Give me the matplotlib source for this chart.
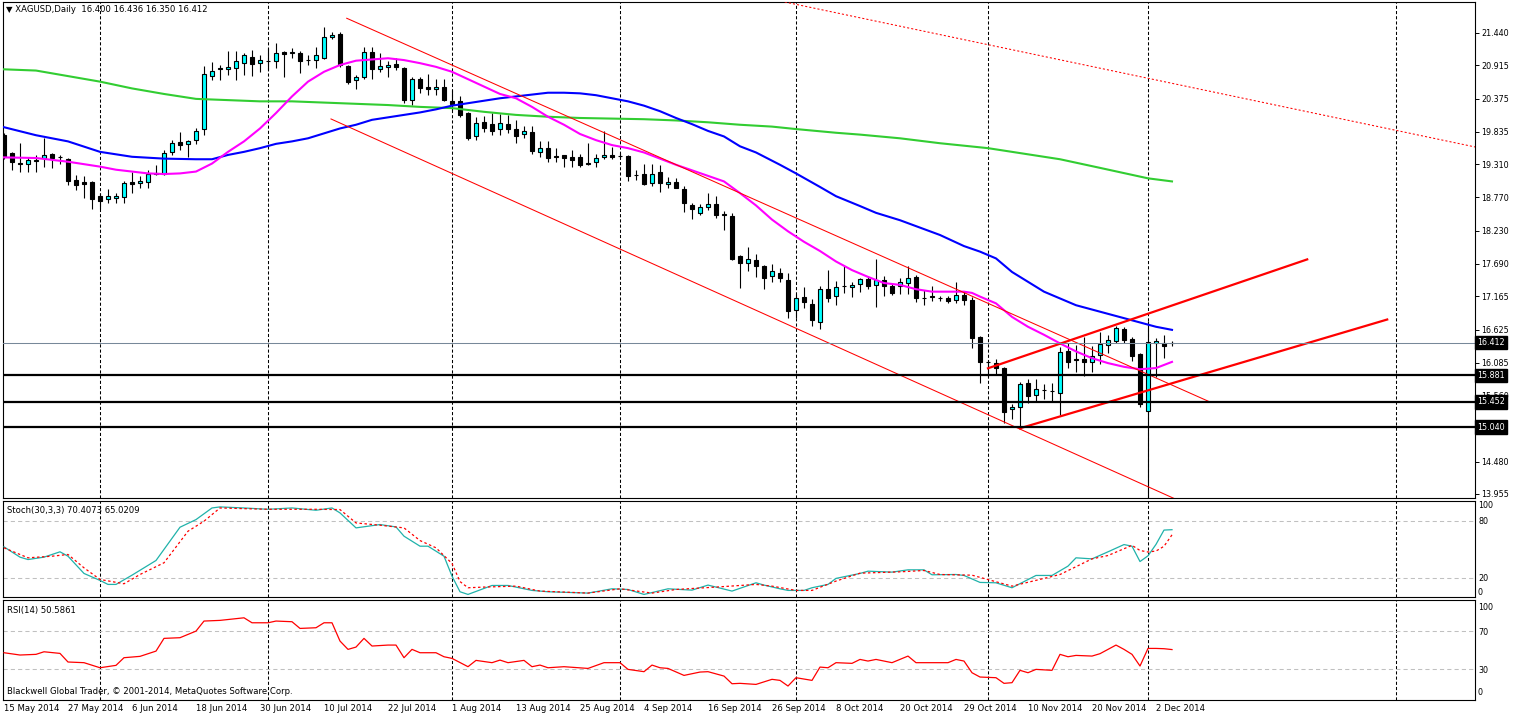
import numpy as np
import matplotlib.pyplot as plt

W, H = 1514, 718

# daily candles, 15 May 2014 .. 4 Dec 2014 (bar index = position on chart)
opens = [19.78, 19.49, 19.33, 19.31, 19.36, 19.41, 19.48, 19.43, 19.39, 19.05,
         19.02, 19.02, 18.79, 18.74, 18.76, 18.77, 19.02, 19.00, 19.02, 19.16,
         19.15, 19.50, 19.67, 19.64, 19.71, 19.88, 20.74, 20.86, 20.85, 20.87,
         20.96, 21.05, 20.96, 20.99, 20.99, 21.13, 21.12, 21.12, 21.00, 21.00,
         21.04, 21.38, 21.43, 20.90, 20.68, 20.72, 21.13, 20.86, 20.88, 20.94,
         20.87, 20.35, 20.69, 20.56, 20.53, 20.56, 20.34, 20.34, 20.14, 19.76,
         20.00, 19.96, 19.88, 19.96, 19.88, 19.80, 19.83, 19.51, 19.58, 19.45,
         19.46, 19.43, 19.43, 19.32, 19.35, 19.42, 19.46, 19.44, 19.44, 19.14,
         19.15, 19.01, 19.19, 18.99, 19.02, 18.91, 18.65, 18.52, 18.61, 18.66,
         18.49, 18.47, 17.82, 17.70, 17.75, 17.65, 17.49, 17.54, 17.43, 16.95,
         17.15, 17.04, 16.74, 17.29, 17.17, 17.33, 17.32, 17.36, 17.44, 17.35,
         17.43, 17.33, 17.33, 17.38, 17.48, 17.14, 17.16, 17.14, 17.14, 17.10,
         17.19, 17.11, 16.50, 16.09, 16.08, 16.00, 15.33, 15.36, 15.75, 15.57,
         15.65, 15.62, 15.60, 16.27, 16.14, 16.15, 16.09, 16.21, 16.38, 16.44,
         16.63, 16.47, 16.23, 15.31, 16.40, 16.41, 16.400]
highs = [19.81, 19.51, 19.65, 19.43, 19.46, 19.73, 19.49, 19.46, 19.41, 19.14,
         19.11, 19.03, 18.84, 18.90, 18.85, 19.03, 19.19, 19.11, 19.22, 19.30,
         19.54, 19.70, 19.84, 19.71, 19.89, 20.90, 20.97, 20.92, 21.14, 21.14,
         21.11, 21.16, 21.08, 21.19, 21.27, 21.14, 21.19, 21.14, 21.08, 21.22,
         21.54, 21.46, 21.45, 20.92, 20.76, 21.22, 21.22, 21.11, 20.98, 21.03,
         20.89, 20.73, 20.73, 20.77, 20.69, 20.70, 20.52, 20.41, 20.16, 20.08,
         20.09, 20.14, 20.13, 20.11, 20.03, 19.93, 19.93, 19.68, 19.68, 19.57,
         19.46, 19.54, 19.48, 19.65, 19.48, 19.85, 19.59, 19.49, 19.46, 19.22,
         19.32, 19.31, 19.30, 19.10, 19.08, 18.95, 18.68, 18.66, 18.85, 18.80,
         18.55, 18.51, 17.83, 17.96, 17.85, 17.67, 17.69, 17.62, 17.54, 17.20,
         17.31, 17.12, 17.33, 17.59, 17.42, 17.66, 17.40, 17.47, 17.48, 17.77,
         17.50, 17.38, 17.46, 17.65, 17.51, 17.27, 17.33, 17.17, 17.17, 17.39,
         17.24, 17.16, 16.52, 16.13, 16.14, 16.02, 15.42, 15.78, 15.83, 15.83,
         15.74, 15.76, 16.34, 16.40, 16.38, 16.50, 16.35, 16.59, 16.54, 16.68,
         16.66, 16.50, 16.25, 16.77, 16.48, 16.54, 16.436]
lows = [19.39, 19.22, 19.19, 19.19, 19.19, 19.27, 19.25, 19.32, 18.97, 18.89,
        18.76, 18.59, 18.59, 18.68, 18.68, 18.68, 18.84, 18.92, 18.92, 19.13,
        19.13, 19.46, 19.54, 19.42, 19.64, 19.78, 20.68, 20.68, 20.76, 20.67,
        20.76, 20.74, 20.81, 20.84, 20.87, 20.73, 21.03, 20.79, 20.92, 20.87,
        21.01, 21.35, 20.89, 20.61, 20.53, 20.69, 20.69, 20.81, 20.72, 20.84,
        20.30, 20.27, 20.46, 20.43, 20.43, 20.33, 20.19, 20.08, 19.70, 19.70,
        19.84, 19.78, 19.79, 19.82, 19.66, 19.74, 19.48, 19.43, 19.34, 19.35,
        19.27, 19.27, 19.27, 19.29, 19.27, 19.39, 19.40, 19.41, 19.04, 19.05,
        18.97, 18.96, 18.86, 18.93, 18.92, 18.54, 18.42, 18.49, 18.57, 18.43,
        18.24, 17.75, 17.30, 17.58, 17.48, 17.29, 17.40, 17.39, 16.82, 16.81,
        16.97, 16.68, 16.63, 17.08, 17.02, 17.22, 17.16, 17.24, 17.28, 16.99,
        17.17, 17.18, 17.21, 17.21, 17.08, 17.02, 17.09, 17.09, 17.06, 17.06,
        17.02, 16.32, 15.75, 15.86, 15.89, 15.10, 15.17, 15.02, 15.44, 15.45,
        15.49, 15.46, 15.24, 16.00, 15.94, 15.87, 15.93, 16.07, 16.24, 16.40,
        16.40, 16.12, 15.37, 13.85, 15.86, 16.16, 16.350]
closes = [19.43, 19.34, 19.32, 19.37, 19.37, 19.46, 19.41, 19.42, 19.03, 18.97,
          18.98, 18.75, 18.72, 18.79, 18.79, 19.00, 18.98, 19.04, 19.15, 19.15,
          19.49, 19.65, 19.62, 19.68, 19.85, 20.78, 20.82, 20.86, 20.89, 20.98,
          21.08, 20.93, 21.00, 20.98, 21.11, 21.10, 21.12, 20.99, 21.00, 21.08,
          21.37, 21.41, 20.92, 20.64, 20.72, 21.13, 20.85, 20.90, 20.92, 20.88,
          20.35, 20.70, 20.54, 20.53, 20.56, 20.35, 20.28, 20.11, 19.73, 19.98,
          19.90, 19.85, 19.98, 19.88, 19.77, 19.85, 19.53, 19.58, 19.41, 19.42,
          19.41, 19.38, 19.30, 19.32, 19.41, 19.46, 19.42, 19.44, 19.12, 19.13,
          18.99, 19.15, 19.00, 19.02, 18.93, 18.68, 18.59, 18.62, 18.67, 18.49,
          18.49, 17.77, 17.71, 17.77, 17.65, 17.47, 17.58, 17.46, 16.93, 17.13,
          17.07, 16.78, 17.28, 17.13, 17.32, 17.33, 17.35, 17.44, 17.34, 17.43,
          17.33, 17.22, 17.39, 17.47, 17.13, 17.14, 17.16, 17.13, 17.09, 17.19,
          17.10, 16.48, 16.10, 16.09, 16.00, 15.28, 15.37, 15.74, 15.55, 15.66,
          15.64, 15.62, 16.26, 16.10, 16.13, 16.09, 16.20, 16.39, 16.46, 16.65,
          16.46, 16.19, 15.41, 16.42, 16.44, 16.36, 16.412]

date_labels = ['15 May 2014', '27 May 2014', '6 Jun 2014', '18 Jun 2014', '30 Jun 2014',
               '10 Jul 2014', '22 Jul 2014', '1 Aug 2014', '13 Aug 2014', '25 Aug 2014',
               '4 Sep 2014', '16 Sep 2014', '26 Sep 2014', '8 Oct 2014', '20 Oct 2014',
               '29 Oct 2014', '10 Nov 2014', '20 Nov 2014', '2 Dec 2014']
date_bars = list(range(0, 8 * len(date_labels), 8))
month_bars = [12, 33, 56, 77, 99, 123, 143, 174]

# moving averages (bar, price)
pink_bar = [0, 4, 8, 12, 14, 18, 20, 22, 24, 26, 28, 30, 32, 34, 36, 38, 40, 42, 44, 46,
            48, 50, 52, 54, 56, 58, 60, 62, 64, 66, 68, 70, 72, 74, 76, 78, 80, 82, 84, 86,
            88, 90, 92, 94, 96, 98, 100, 102, 104, 106, 108, 110, 112, 114, 116, 118, 120,
            121, 122, 124, 125, 126, 128, 130, 132, 134, 136, 138, 140, 142, 144, 146]
pink_val = [19.42, 19.41, 19.35, 19.27, 19.22, 19.16, 19.15, 19.16, 19.19, 19.32, 19.51,
            19.68, 19.89, 20.14, 20.41, 20.65, 20.81, 20.92, 20.99, 21.01, 21.03, 21.00,
            20.95, 20.89, 20.81, 20.69, 20.57, 20.45, 20.38, 20.24, 20.08, 19.95, 19.80,
            19.70, 19.62, 19.57, 19.50, 19.40, 19.30, 19.21, 19.12, 19.03, 18.84, 18.64,
            18.41, 18.22, 18.05, 17.90, 17.73, 17.59, 17.48, 17.38, 17.35, 17.28, 17.24,
            17.24, 17.24, 17.22, 17.16, 17.05, 16.94, 16.83, 16.67, 16.54, 16.40, 16.27,
            16.16, 16.08, 16.02, 15.98, 16.00, 16.10]
blue_bar = [0, 4, 8, 12, 16, 20, 24, 26, 28, 30, 32, 34, 36, 38, 40, 42, 44, 46, 48, 50,
            52, 54, 56, 58, 60, 62, 64, 66, 68, 70, 72, 74, 76, 78, 80, 82, 84, 86, 88, 90,
            92, 94, 97, 99, 102, 104, 107, 109, 112, 117, 120, 122, 124, 126, 128, 130,
            132, 134, 136, 138, 140, 142, 144, 146]
blue_val = [19.91, 19.78, 19.68, 19.51, 19.43, 19.40, 19.39, 19.39, 19.46, 19.51, 19.57,
            19.64, 19.68, 19.73, 19.81, 19.89, 19.95, 20.03, 20.07, 20.11, 20.15, 20.20,
            20.26, 20.30, 20.34, 20.38, 20.41, 20.44, 20.47, 20.47, 20.46, 20.43, 20.38,
            20.33, 20.26, 20.17, 20.06, 19.96, 19.85, 19.76, 19.60, 19.50, 19.30, 19.16,
            18.94, 18.79, 18.63, 18.52, 18.40, 18.16, 17.98, 17.89, 17.78, 17.56, 17.40,
            17.24, 17.13, 17.02, 16.95, 16.88, 16.81, 16.74, 16.67, 16.62]
green_bar = [0, 4, 8, 12, 16, 20, 24, 28, 32, 36, 40, 44, 48, 52, 56, 60, 64, 68, 72, 76,
             80, 84, 88, 92, 96, 99, 104, 107, 112, 117, 123, 127, 132, 137, 143, 146]
green_val = [20.85, 20.83, 20.74, 20.65, 20.54, 20.45, 20.37, 20.35, 20.33, 20.33, 20.31,
             20.29, 20.27, 20.24, 20.22, 20.16, 20.11, 20.08, 20.06, 20.05, 20.04, 20.02,
             19.99, 19.95, 19.92, 19.88, 19.82, 19.79, 19.73, 19.65, 19.57, 19.49, 19.39,
             19.25, 19.08, 19.03]

# drawn objects (bar, price)
chan_hi = ([42.84, 150.75], [21.679, 15.449])
chan_lo = ([40.875, 146.2], [20.044, 13.886])
rise_hi = ([123.0, 162.9], [15.996, 17.764])
rise_lo = ([127.0, 172.9], [15.022, 16.788])
far_line = ([97.6, 183.9], [21.943, 19.589])
levels = [15.881, 15.452, 15.040]
bid = 16.412
price_ticks = [21.440, 20.915, 20.375, 19.835, 19.310, 18.770, 18.230, 17.690, 17.165,
               16.625, 16.085, 15.560, 14.480, 13.955]

# Stochastic(30,3,3)
st_bar = [0, 2, 3, 5, 7, 8, 10, 12, 13, 14, 16, 19, 22, 24, 26, 27, 30, 33, 36, 39, 41,
          42, 44, 47, 49, 50, 52, 53, 55, 56, 57, 58, 61, 63, 66, 68, 73, 76, 78, 80, 83,
          86, 88, 91, 94, 95, 97, 98, 100, 101, 103, 104, 107, 108, 111, 113, 115, 116,
          119, 120, 122, 124, 126, 129, 131, 133, 134, 136, 138, 140, 141, 142, 143, 144,
          145, 146]
st_main = [52.4, 41.6, 39.1, 41.6, 47.2, 42.6, 24.5, 17.2, 13.0, 13.0, 22.7, 38.1, 73.0,
           81.0, 93.2, 94.3, 93.2, 91.8, 93.2, 90.8, 93.2, 88.0, 72.3, 75.8, 73.3, 63.6,
           53.1, 53.1, 42.6, 21.7, 5.3, 2.5, 11.9, 11.9, 6.7, 5.3, 3.9, 8.4, 7.7, 2.5, 8.4,
           7.0, 12.3, 6.0, 14.7, 12.3, 8.4, 6.7, 6.7, 9.5, 13.0, 19.3, 24.5, 26.9, 25.9,
           28.3, 28.3, 23.1, 23.4, 22.4, 15.1, 14.7, 9.5, 22.4, 22.4, 32.2, 40.9, 39.8,
           47.2, 54.8, 53.1, 37.0, 43.0, 55.0, 70.0, 70.4]
sig_bar = [0, 3, 6, 8, 10, 12, 15, 17, 20, 23, 25, 27, 33, 39, 42, 44, 47, 50, 52, 54,
           56, 57, 58, 60, 64, 67, 73, 77, 81, 84, 89, 94, 96, 99, 101, 104, 107, 112, 115,
           117, 121, 124, 126, 130, 132, 136, 138, 141, 142, 143, 144, 145, 146]
sig_val = [51.4, 40.9, 42.6, 44.4, 30.4, 18.2, 13.7, 23.4, 35.7, 68.8, 79.3, 93.2, 91.8,
           91.8, 91.5, 77.5, 75.1, 72.3, 59.0, 51.4, 35.0, 16.0, 9.5, 10.2, 11.2, 6.0, 3.9,
           8.4, 3.9, 7.7, 10.2, 13.0, 11.2, 6.7, 6.7, 16.5, 24.8, 26.2, 27.6, 23.4, 22.7,
           15.8, 11.2, 19.3, 23.4, 39.8, 43.3, 54.0, 48.6, 47.0, 48.0, 53.0, 65.0]

# RSI(14)
rsi_bar = [0, 2, 4, 5, 7, 8, 10, 12, 14, 15, 17, 19, 20, 22, 24, 25, 27, 30, 31, 33, 34,
           36, 37, 39, 40, 41, 42, 43, 44, 45, 46, 48, 49, 50, 51, 52, 54, 55, 56, 58, 59,
           61, 62, 63, 65, 66, 67, 68, 70, 73, 75, 77, 78, 80, 81, 82, 83, 85, 87, 88, 90,
           91, 92, 94, 96, 97, 98, 99, 101, 102, 103, 104, 106, 107, 108, 109, 111, 113,
           114, 118, 119, 120, 121, 122, 124, 125, 126, 127, 128, 129, 131, 132, 133, 134,
           136, 137, 138, 139, 140, 141, 142, 143, 144, 145, 146]
rsi_val = [47.3, 44.9, 45.6, 48.3, 46.6, 37.6, 36.9, 31.6, 34.1, 42.1, 43.5, 49.0, 62.3,
           63.0, 69.9, 80.4, 81.1, 83.8, 78.6, 78.6, 80.4, 79.7, 72.7, 73.4, 78.6, 78.6,
           59.5, 50.8, 53.2, 62.3, 54.3, 55.3, 55.3, 42.1, 50.8, 47.3, 47.3, 43.1, 41.4,
           32.7, 39.3, 36.9, 39.6, 36.9, 39.3, 32.7, 34.4, 31.6, 32.7, 30.9, 36.9, 36.9,
           29.9, 27.5, 34.4, 31.6, 30.9, 23.6, 27.1, 27.5, 22.9, 14.9, 15.3, 14.2, 19.5,
           18.4, 12.5, 21.2, 18.4, 32.3, 31.6, 36.9, 36.2, 40.3, 38.6, 40.3, 36.9, 43.8,
           36.9, 36.9, 40.3, 38.6, 26.4, 21.9, 21.2, 15.3, 16.0, 28.9, 26.4, 29.9, 28.9,
           45.6, 43.1, 44.5, 43.8, 46.3, 50.8, 55.3, 50.8, 45.6, 33.4, 51.8, 51.8, 51.5,
           50.6]

plt.rcParams['font.family'] = 'DejaVu Sans'
plt.rcParams['font.size'] = 6.1

fig = plt.figure(figsize=(W / 100, H / 100), dpi=100)


def panel(top, bottom):
    a = fig.add_axes([3 / W, 1 - bottom / H, 1472 / W, (bottom - top) / H])
    a.set_xlim(-0.125, 183.875)
    for s in a.spines.values():
        s.set_linewidth(0.8)
        s.set_color('black')
    for b in month_bars:
        a.axvline(b, color='black', lw=0.75, ls=(0, (3, 2)), zorder=1)
    return a


ax = panel(2, 498)
ax_st = panel(501, 597)
ax_rsi = panel(600, 700)

# ---- main chart
o, h, l, c = (np.array(v) for v in (opens, highs, lows, closes))
x = np.arange(len(o))
up = c >= o
ax.vlines(x, l, h, color='black', lw=0.8, zorder=2)
lo = np.minimum(o, c)
hh = np.maximum(np.abs(c - o), 0.004)
ax.bar(x[up], hh[up], bottom=lo[up], width=0.55, color='#00ffff', edgecolor='black',
       lw=0.8, zorder=3)
ax.bar(x[~up], hh[~up], bottom=lo[~up], width=0.55, color='black', edgecolor='black',
       lw=0.8, zorder=3)

ax.plot(green_bar, green_val, color='#32cd32', lw=1.5, zorder=4)
ax.plot(blue_bar, blue_val, color='#0000ff', lw=1.5, zorder=4)
ax.plot(pink_bar, pink_val, color='#ff00ff', lw=1.5, zorder=4)

ax.plot(*chan_hi, color='red', lw=0.75, zorder=4)
ax.plot(*chan_lo, color='red', lw=0.75, zorder=4)
ax.plot(*rise_hi, color='red', lw=1.6, zorder=4)
ax.plot(*rise_lo, color='red', lw=1.6, zorder=4)
ax.plot(*far_line, color='red', lw=0.75, ls=(0, (2, 2)), zorder=4)

ax.axhline(bid, color='#778899', lw=0.75, zorder=4)
for lv in levels:
    ax.axhline(lv, color='black', lw=1.6, zorder=5)

ax.set_ylim(13.890, 21.943)
ax.yaxis.tick_right()
ax.set_yticks(price_ticks)
ax.set_yticklabels([f'{t:.3f}' for t in price_ticks])
ax.tick_params(axis='y', direction='out', length=3, width=0.7, pad=1.5, labelsize=5.8)
ax.tick_params(axis='x', bottom=False, labelbottom=False)

for lv in [bid] + levels:
    ax.text(1.0012, lv, f'{lv:.3f}', transform=ax.get_yaxis_transform(), ha='left',
            va='center', color='white', fontsize=5.8, clip_on=False, zorder=6,
            bbox=dict(boxstyle='square,pad=0.28', fc='black', ec='black'))

fig.text(6 / W, 1 - 10 / H, '\u25bc XAGUSD,Daily  16.400 16.436 16.350 16.412',
         va='center', ha='left', fontsize=6.1)

# ---- stochastic
ax_st.plot(st_bar, st_main, color='#20b2aa', lw=0.9, zorder=3)
ax_st.plot(sig_bar, sig_val, color='red', lw=0.9, ls=(0, (2, 2)), zorder=3)
for lv in (20, 80):
    ax_st.axhline(lv, color='#c0c0c0', lw=0.75, ls=(0, (4, 3)), zorder=1)
ax_st.set_ylim(-0.2, 100.5)
ax_st.yaxis.tick_right()
ax_st.set_yticks([20, 80])
ax_st.tick_params(axis='y', length=0, pad=2.5, labelsize=5.8)
ax_st.tick_params(axis='x', bottom=False, labelbottom=False)
ax_st.text(1.002, 1.0, '100', transform=ax_st.transAxes, ha='left', va='top', fontsize=5.8)
ax_st.text(1.002, 0.0, '0', transform=ax_st.transAxes, ha='left', va='bottom', fontsize=5.8)
fig.text(7 / W, 1 - 510 / H, 'Stoch(30,3,3) 70.4073 65.0209', va='center', ha='left',
         fontsize=6.1)

# ---- RSI
ax_rsi.plot(rsi_bar, rsi_val, color='red', lw=0.9, zorder=3)
for lv in (30, 70):
    ax_rsi.axhline(lv, color='#c0c0c0', lw=0.75, ls=(0, (4, 3)), zorder=1)
ax_rsi.set_ylim(-2.1, 102.4)
ax_rsi.yaxis.tick_right()
ax_rsi.set_yticks([30, 70])
ax_rsi.tick_params(axis='y', length=0, pad=2.5, labelsize=5.8)
ax_rsi.text(1.002, 0.97, '100', transform=ax_rsi.transAxes, ha='left', va='top', fontsize=5.8)
ax_rsi.text(1.002, 0.03, '0', transform=ax_rsi.transAxes, ha='left', va='bottom', fontsize=5.8)
ax_rsi.set_xticks(date_bars)
ax_rsi.set_xticklabels(date_labels)
for t in ax_rsi.get_xticklabels():
    t.set_ha('left')
ax_rsi.tick_params(axis='x', length=0, pad=3, labelsize=6.1)
fig.text(7 / W, 1 - 611 / H, 'RSI(14) 50.5861', va='center', ha='left', fontsize=6.1)
fig.text(7 / W, 1 - 692 / H, 'Blackwell Global Trader, \u00a9 2001-2014, MetaQuotes Software Corp.',
         va='center', ha='left', fontsize=6.1)

fig.savefig('out.png', dpi=100, facecolor='white')
